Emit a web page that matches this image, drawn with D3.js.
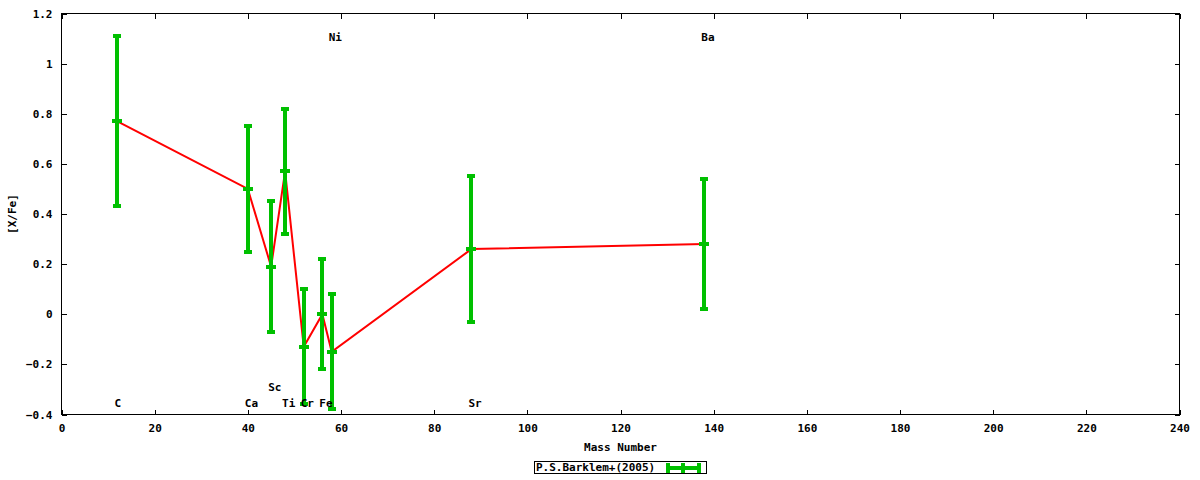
<!DOCTYPE html>
<html>
<head>
<meta charset="utf-8">
<script src="https://cdn.jsdelivr.net/npm/d3@7"></script>
<style>
  html, body { margin: 0; padding: 0; background: #fff; }
  svg { display: block; }
  text { font-family: "DejaVu Sans Mono", "Liberation Mono", monospace; font-size: 11px; font-weight: bold; fill: #000; }
</style>
</head>
<body>
<svg id="chart" width="1200" height="480"></svg>
<script>
// ---- data ----
const elements = ["C", "Ca", "Sc", "Ti", "Cr", "Fe", "Ni", "Sr", "Ba"];
const massNumber = [12, 40, 45, 48, 52, 56, 58, 88, 138];
const xFe = [0.77, 0.50, 0.19, 0.57, -0.13, 0.00, -0.15, 0.26, 0.28];
const xFeErr = [0.34, 0.25, 0.26, 0.25, 0.23, 0.22, 0.23, 0.29, 0.26];
const labelY = [-0.355, -0.355, -0.29, -0.355, -0.355, -0.355, 1.105, -0.355, 1.105];
const xTicks = [0, 20, 40, 60, 80, 100, 120, 140, 160, 180, 200, 220, 240];
const yTicks = [-0.4, -0.2, 0, 0.2, 0.4, 0.6, 0.8, 1, 1.2];
const seriesName = "P.S.Barklem+(2005)";
const xTitle = "Mass Number";
const yTitle = "[X/Fe]";

// ---- layout ----
const W = 1200, H = 480;
const L = 61.5, R = 1179.5, T = 13.5, B = 414.5;
const green = "#00c000", red = "#ff0000";

const svg = d3.select("#chart");
const x = d3.scaleLinear().domain([0, 240]).range([L, R]);
const y = d3.scaleLinear().domain([-0.4, 1.2]).range([B, T]);

// axes (ticks inward, mirrored)
const tickLen = 5;
const fmtY = d => (d === 0 ? "0" : d3.format("")(+d.toFixed(1)));
const axB = svg.append("g").attr("transform", `translate(0,${B})`)
  .call(d3.axisBottom(x).tickValues(xTicks).tickSizeInner(-tickLen).tickSizeOuter(0).tickPadding(10).tickFormat(d3.format("d")));
const axT = svg.append("g").attr("transform", `translate(0,${T})`)
  .call(d3.axisTop(x).tickValues(xTicks).tickSizeInner(-tickLen).tickSizeOuter(0).tickFormat(""));
const axL = svg.append("g").attr("transform", `translate(${L},0)`)
  .call(d3.axisLeft(y).tickValues(yTicks).tickSizeInner(-tickLen).tickSizeOuter(0).tickPadding(9).tickFormat(fmtY));
const axR = svg.append("g").attr("transform", `translate(${R},0)`)
  .call(d3.axisRight(y).tickValues(yTicks).tickSizeInner(-tickLen).tickSizeOuter(0).tickFormat(""));
[axB, axT, axL, axR].forEach(g => {
  g.select(".domain").remove();
  g.selectAll("line").attr("stroke", "#000").attr("shape-rendering", "crispEdges");
  g.selectAll("text").attr("font-family", null).attr("font-size", null).attr("fill", "#000");
});
// border
svg.append("rect").attr("x", L).attr("y", T).attr("width", R - L).attr("height", B - T)
  .attr("fill", "none").attr("stroke", "#000").attr("stroke-width", 1).attr("shape-rendering", "crispEdges");

// titles
svg.append("text").attr("x", (L + R) / 2).attr("y", 451).attr("text-anchor", "middle").text(xTitle);
svg.append("text").attr("transform", `translate(16,${(T + B) / 2}) rotate(-90)`).attr("text-anchor", "middle").text(yTitle);

// data
const pts = elements.map((e, i) => ({ e, m: massNumber[i], v: xFe[i], err: xFeErr[i], ly: labelY[i] }));

// red connecting line
svg.append("path").datum(pts)
  .attr("d", d3.line().x(d => x(d.m)).y(d => y(d.v)))
  .attr("fill", "none").attr("stroke", red).attr("stroke-width", 2);

// error bars
const eb = svg.append("g").attr("shape-rendering", "crispEdges");
eb.selectAll("rect.bar").data(pts).join("rect")
  .attr("x", d => x(d.m) - 2).attr("width", 4)
  .attr("y", d => y(d.v + d.err)).attr("height", d => y(d.v - d.err) - y(d.v + d.err))
  .attr("fill", green);
eb.selectAll("rect.capTop").data(pts).join("rect")
  .attr("x", d => x(d.m) - 4).attr("width", 8)
  .attr("y", d => y(d.v + d.err) - 2).attr("height", 4).attr("fill", green);
eb.selectAll("rect.capBot").data(pts).join("rect")
  .attr("x", d => x(d.m) - 4).attr("width", 8)
  .attr("y", d => y(d.v - d.err) - 2).attr("height", 4).attr("fill", green);
eb.selectAll("rect.mid").data(pts).join("rect")
  .attr("x", d => x(d.m) - 5).attr("width", 10)
  .attr("y", d => y(d.v) - 2).attr("height", 4).attr("fill", green);

// element labels
svg.append("g").selectAll("text").data(pts).join("text")
  .attr("x", d => x(d.m) - 3).attr("y", d => y(d.ly)).attr("dy", "0.35em")
  .attr("text-anchor", "start").text(d => d.e);

// legend
const lg = svg.append("g");
lg.append("rect").attr("x", 534.5).attr("y", 461.5).attr("width", 172).attr("height", 12)
  .attr("fill", "#fff").attr("stroke", "#000").attr("shape-rendering", "crispEdges");
lg.append("text").attr("x", 536).attr("y", 467.5).attr("dy", "0.35em").text(seriesName);
const ls = lg.append("g").attr("shape-rendering", "crispEdges").attr("fill", green);
ls.append("rect").attr("x", 666).attr("y", 466).attr("width", 35).attr("height", 4);
ls.append("rect").attr("x", 666).attr("y", 463).attr("width", 4).attr("height", 10);
ls.append("rect").attr("x", 697).attr("y", 463).attr("width", 4).attr("height", 10);
ls.append("rect").attr("x", 681).attr("y", 463).attr("width", 4).attr("height", 10);
</script>
</body>
</html>
